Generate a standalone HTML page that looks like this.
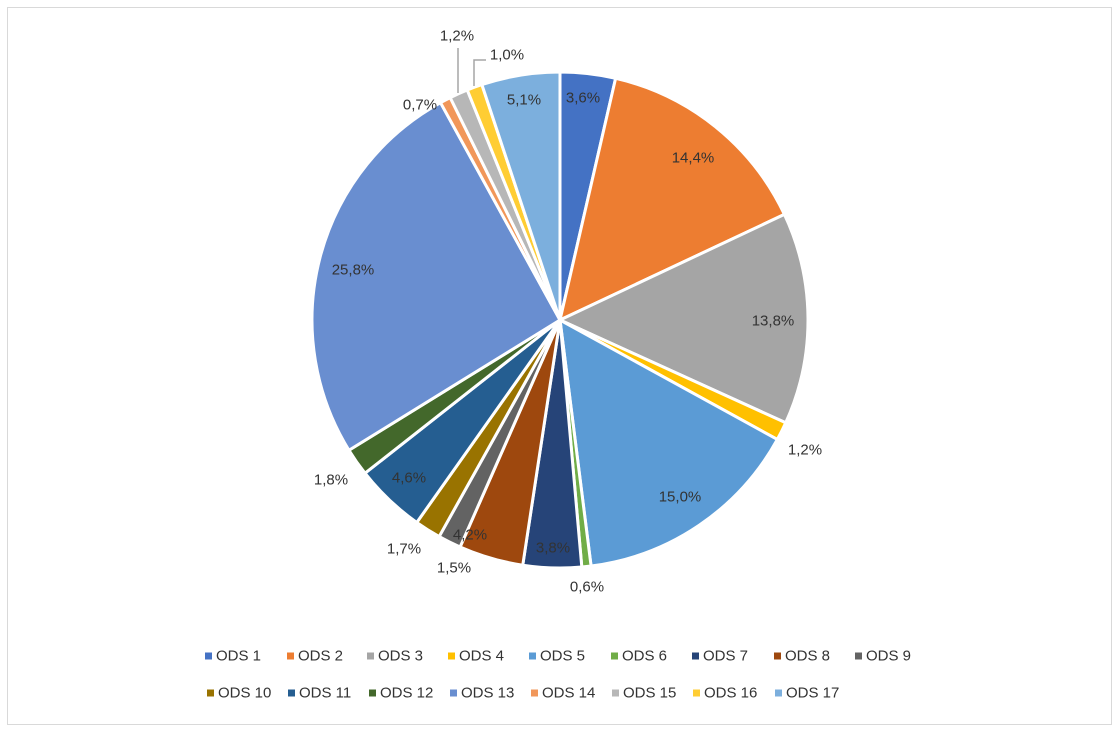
<!DOCTYPE html>
<html><head><meta charset="utf-8"><style>
body{margin:0;background:#fff;width:1118px;height:732px;overflow:hidden;font-family:"Liberation Sans",sans-serif}
svg text{font-family:"Liberation Sans",sans-serif;font-size:15px;fill:#333}
</style></head><body>
<svg id="s" width="1118" height="732" xmlns="http://www.w3.org/2000/svg">
<rect x="7.5" y="7.5" width="1104" height="717" fill="#fff" stroke="#d9d9d9"/>
<g id="pie"></g>
<g stroke="#a5a5a5" stroke-width="1.5" fill="none">
<path d="M458 48 V93"/><path d="M486 60 H474 V86"/>
</g>
<g text-anchor="middle" dominant-baseline="central">
<text x="583" y="98">3,6%</text><text x="693" y="158">14,4%</text><text x="773" y="321">13,8%</text>
<text x="805" y="450">1,2%</text><text x="680" y="497">15,0%</text><text x="587" y="587">0,6%</text>
<text x="553" y="548">3,8%</text><text x="470" y="535">4,2%</text><text x="454" y="568">1,5%</text>
<text x="404" y="549">1,7%</text><text x="409" y="478">4,6%</text><text x="331" y="480">1,8%</text>
<text x="353" y="270">25,8%</text><text x="420" y="105">0,7%</text><text x="457" y="36">1,2%</text>
<text x="507" y="55">1,0%</text><text x="524" y="100">5,1%</text>
</g>
<g id="leg" dominant-baseline="central"></g>
</svg>
<script>
var v=[3.6,14.4,13.8,1.2,15.0,0.6,3.8,4.2,1.5,1.7,4.6,1.8,25.8,0.7,1.2,1.0,5.1];
var c=["#4472C4","#ED7D31","#A5A5A5","#FFC000","#5B9BD5","#70AD47","#264478","#9E480E","#636363","#997300","#255E91","#43682B","#698ED0","#F1975A","#B7B7B7","#FFCD33","#7CAFDD"];
var cx=560,cy=320,r=248,a=0,h="";
for(var i=0;i<v.length;i++){var b=a+v[i]/100*2*Math.PI;
var x1=cx+r*Math.sin(a),y1=cy-r*Math.cos(a),x2=cx+r*Math.sin(b),y2=cy-r*Math.cos(b);
h+='<path d="M'+cx+' '+cy+' L'+x1.toFixed(2)+' '+y1.toFixed(2)+' A'+r+' '+r+' 0 '+(b-a>Math.PI?1:0)+' 1 '+x2.toFixed(2)+' '+y2.toFixed(2)+'Z" fill="'+c[i]+'" stroke="#fff" stroke-width="3" stroke-linejoin="round"/>';a=b;}
document.getElementById("pie").innerHTML=h;
var xs=[205,287,367,448,529,611,692,774,855,207,288,369,450,531,612,693,775],l="";
for(var i=0;i<17;i++){var y=i<9?656:693;
l+='<rect x="'+xs[i]+'" y="'+(y-3.5)+'" width="7" height="7" fill="'+c[i]+'"/><text x="'+(xs[i]+11)+'" y="'+y+'">ODS '+(i+1)+'</text>';}
document.getElementById("leg").innerHTML=l;
</script>
</body></html>
